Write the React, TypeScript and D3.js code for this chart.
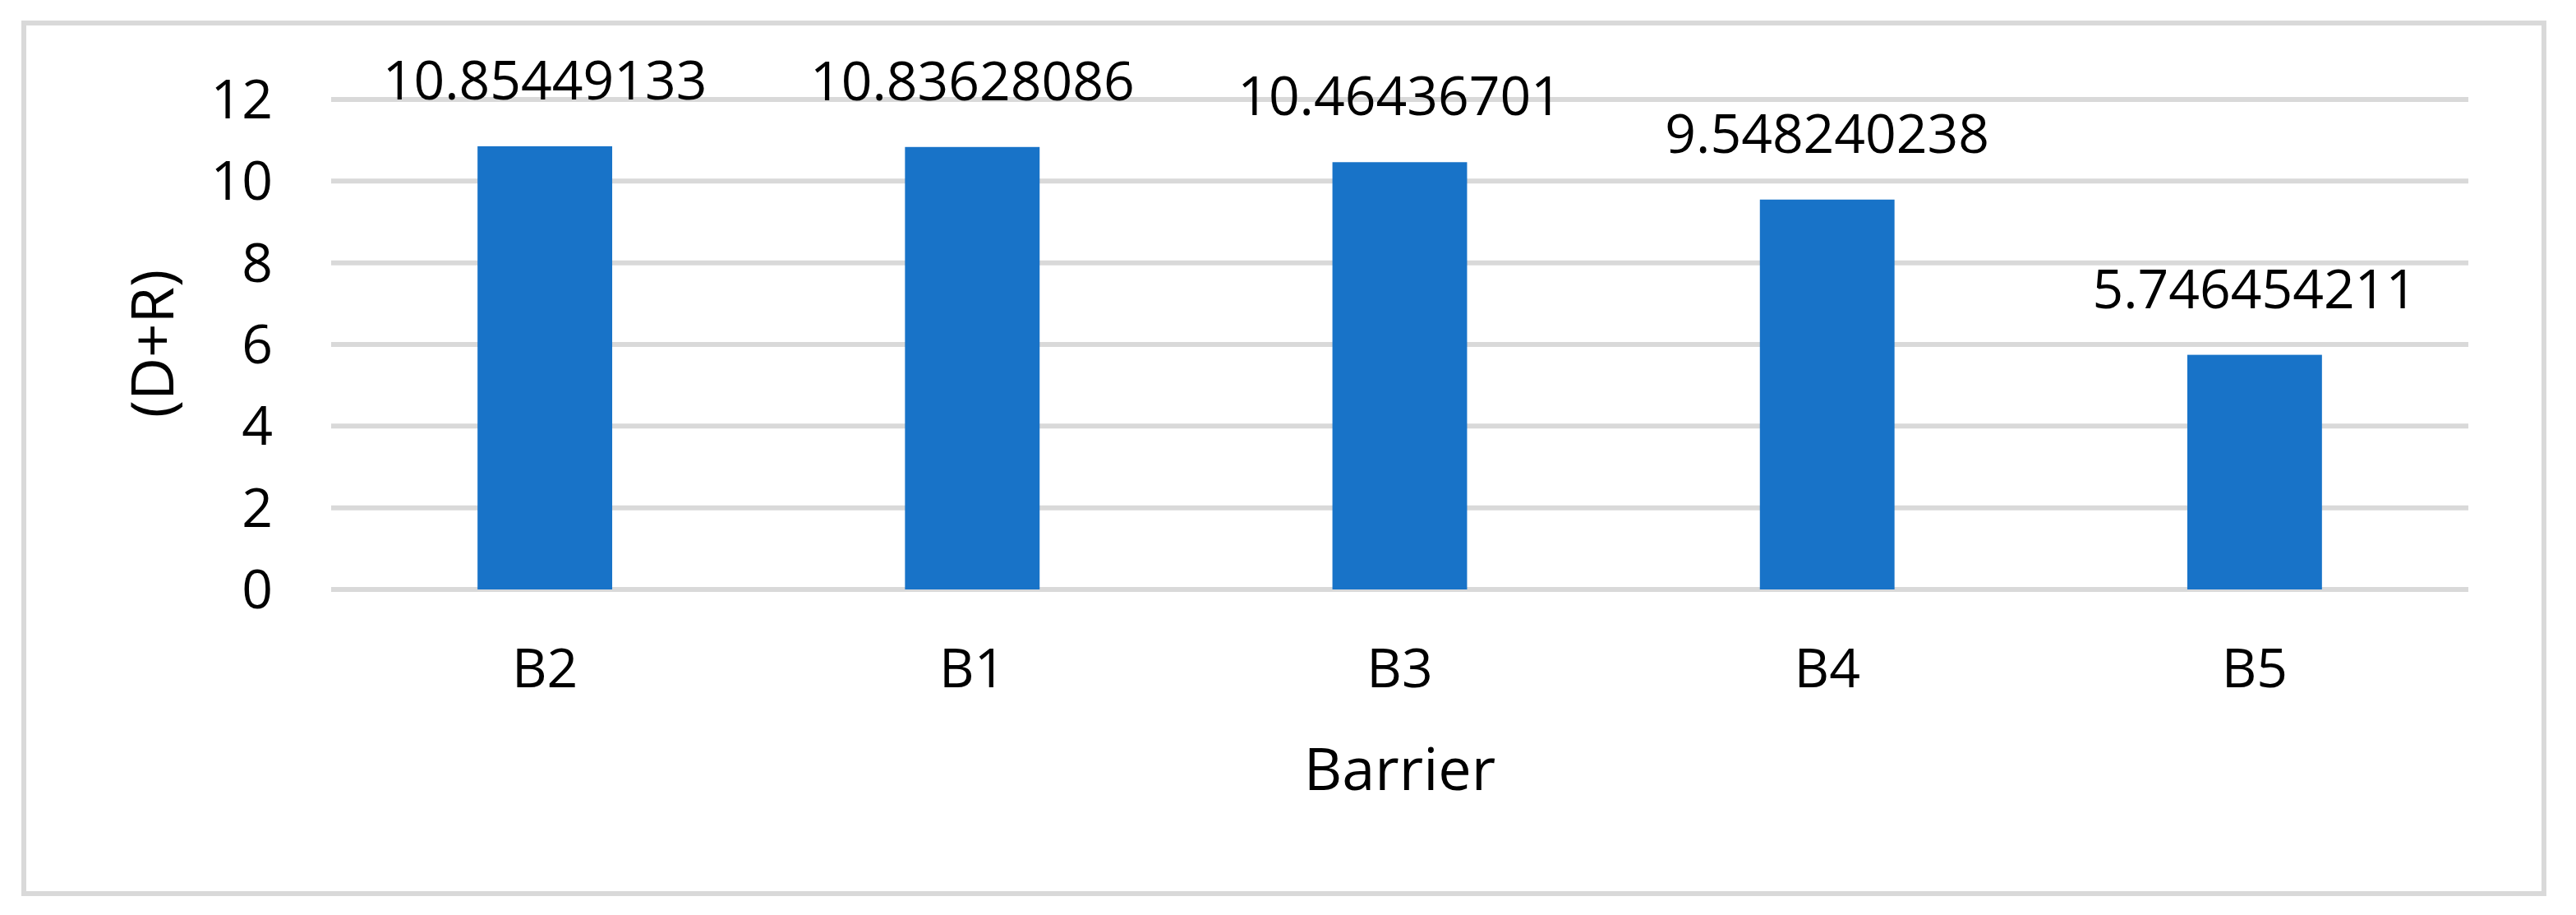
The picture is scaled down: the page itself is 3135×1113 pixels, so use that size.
import React from "react";
import { scaleLinear, scaleBand } from "d3";

const barriers = ["B2", "B1", "B3", "B4", "B5"];
const values = [10.85449133, 10.83628086, 10.46436701, 9.548240238, 5.746454211];
const valueLabels = ["10.85449133", "10.83628086", "10.46436701", "9.548240238", "5.746454211"];
const yTicks = [0, 2, 4, 6, 8, 10, 12];

const width = 3135;
const height = 1113;
const plot = { left: 403, right: 3004, top: 121, bottom: 717 };
const font = '"Open Sans", "Noto Sans", sans-serif';

export default function App() {
  const x = scaleBand<string>()
    .domain(barriers)
    .range([plot.left, plot.right])
    .paddingInner(0.685)
    .paddingOuter(0.3425);

  const y = scaleLinear().domain([0, 12]).range([plot.bottom, plot.top]);

  return (
    <div style={{ position: "absolute", left: 0, top: 0 }}>
      <svg width={width} height={height} fontFamily={font} style={{ display: "block" }}>
        <rect width={width} height={height} fill="white" />
        <rect x={29} y={28} width={3067} height={1059} fill="white" stroke="#d9d9d9" strokeWidth={6} />

        {yTicks.map((t) => (
          <g key={t}>
            <line x1={plot.left} x2={plot.right} y1={y(t)} y2={y(t)} stroke="#d9d9d9" strokeWidth={6} />
            <text x={332} y={y(t)} dy="0.35em" textAnchor="end" fontSize={66} fill="#000">
              {t}
            </text>
          </g>
        ))}

        {barriers.map((b, i) => {
          const cx = (x(b) ?? 0) + x.bandwidth() / 2;
          return (
            <g key={b}>
              <rect
                x={x(b)}
                y={y(values[i])}
                width={x.bandwidth()}
                height={y(0) - y(values[i])}
                fill="#1873c8"
              />
              <text x={cx} y={y(values[i]) - 57} textAnchor="middle" fontSize={66} fill="#000">
                {valueLabels[i]}
              </text>
              <text x={cx} y={836} textAnchor="middle" fontSize={66} fill="#000">
                {b}
              </text>
            </g>
          );
        })}

        <text x={(plot.left + plot.right) / 2} y={961} textAnchor="middle" fontSize={72} fill="#000">
          Barrier
        </text>
        <text transform="translate(211, 418) rotate(-90)" textAnchor="middle" fontSize={72} fill="#000">
          (D+R)
        </text>
      </svg>
    </div>
  );
}
